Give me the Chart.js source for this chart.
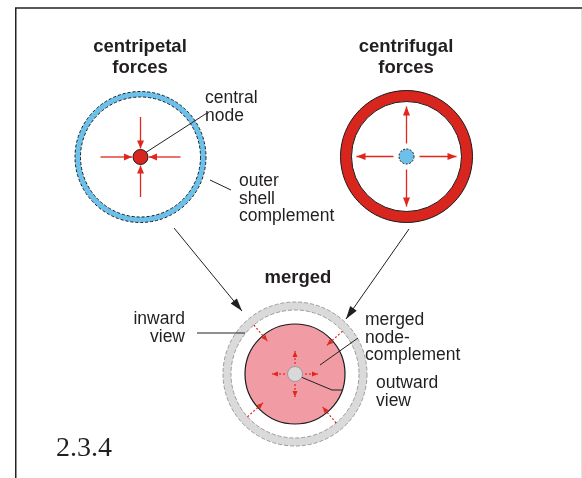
<!DOCTYPE html>
<html>
<head>
<meta charset="utf-8">
<script src="https://cdn.jsdelivr.net/npm/chart.js@4.4.1/dist/chart.umd.min.js"></script>
<style>
  html, body { margin: 0; padding: 0; background: #fff; }
  canvas { display: block; }
</style>
</head>
<body>
<canvas id="forcesChart" width="582" height="478"></canvas>
<script>
// diagram units = page pixels, x to the right, y downward
const shellNames = ['centripetal', 'centrifugal', 'merged'];
const shellX = [140.5, 406.5, 295];
const shellY = [157, 156.5, 374];
const shellOuter = [65.5, 66, 72];
const shellInner = [60, 55, 64];
const nodeR = [7.5, 7.5, 7.5];
const mergedDiscR = 50;

// force arrows: angle in degrees, radius where it starts / ends
const axisAngles = [0, 90, 180, 270];
const diagAngles = [42, 130, 222, 310];
const inwardRadii = [40, 8.5];
const outwardRadii = [13, 50];
const mergedOutRadii = [10, 23];
const mergedInRadii = [64, 43];

// the two big arrows going to "merged"
const flowFrom = [[174, 228], [409, 229]];
const flowTo = [[242, 311], [346, 319]];

// label leader lines
const leaderPaths = [
    [[145, 153], [207, 113]],
    [[210, 180], [231, 190]],
    [[197, 333], [245, 333]],
    [[320, 365], [358, 338]],
    [[301, 377], [332, 390], [343, 390]]
];

const titleText = [['centripetal', 'forces'], ['centrifugal', 'forces'], ['merged']];
const titleX = [140, 406, 298];
const titleY = [52, 52, 283];

const noteText = [['central', 'node'], ['outer', 'shell', 'complement'], ['inward', 'view'], ['merged', 'node-', 'complement'], ['outward', 'view']];
const noteX = [205, 239, 185, 365, 376];
const noteY = [103, 186, 324, 325, 388];
const noteAlign = ['left', 'left', 'right', 'left', 'left'];

const figureLabel = '2.3.4';

const RED = '#e0261d';
const INK = '#231f20';

function radial(i, angle, r) {
    const a = angle * Math.PI / 180;
    return { x: shellX[i] + r * Math.cos(a), y: shellY[i] - r * Math.sin(a) };
}

const datasets = [];
axisAngles.forEach(a => datasets.push({
    data: [radial(0, a, inwardRadii[0]), radial(0, a, inwardRadii[1])],
    borderColor: RED, borderWidth: 1.3, head: { len: 8, w: 7, color: RED }
}));
axisAngles.forEach(a => datasets.push({
    data: [radial(1, a, outwardRadii[0]), radial(1, a, outwardRadii[1])],
    borderColor: RED, borderWidth: 1.3, head: { len: 9, w: 7, color: RED }
}));
axisAngles.forEach(a => datasets.push({
    data: [radial(2, a, mergedOutRadii[0]), radial(2, a, mergedOutRadii[1])],
    borderColor: RED, borderWidth: 1.2, borderDash: [2, 2], head: { len: 6, w: 5, color: RED }
}));
diagAngles.forEach(a => datasets.push({
    data: [radial(2, a, mergedInRadii[0]), radial(2, a, mergedInRadii[1])],
    borderColor: RED, borderWidth: 1.2, borderDash: [2, 2], head: { len: 6, w: 5, color: RED }
}));
flowFrom.forEach((p, k) => datasets.push({
    data: [{ x: p[0], y: p[1] }, { x: flowTo[k][0], y: flowTo[k][1] }],
    borderColor: INK, borderWidth: 1, head: { len: 13, w: 8, color: INK }
}));
leaderPaths.forEach(path => datasets.push({
    data: path.map(p => ({ x: p[0], y: p[1] })),
    borderColor: INK, borderWidth: 1
}));
datasets.forEach(d => {
    d.showLine = true;
    d.pointRadius = 0;
    d.tension = 0;
});

const shellStyle = [
    { fill: '#6cc0ea', edge: '#1a1a1a', dash: [3, 2] },
    { fill: '#d8261e', edge: '#1a1a1a', dash: [] },
    { fill: '#dadada', edge: '#9a9a9a', dash: [4, 2] }
];
const nodeStyle = [
    { fill: '#d8261e', edge: '#1a1a1a', dash: [] },
    { fill: '#6cc0ea', edge: '#1a1a1a', dash: [2, 1.5] },
    { fill: '#d9d9d9', edge: '#9a9a9a', dash: [] }
];

const diagram = {
    id: 'diagram',
    beforeDatasetsDraw(chart) {
        const ctx = chart.ctx;
        const sx = chart.scales.x, sy = chart.scales.y;
        const px = v => sx.getPixelForValue(v);
        const py = v => sy.getPixelForValue(v);
        const pr = r => px(r) - px(0);
        ctx.save();

        // frame
        ctx.strokeStyle = '#222';
        ctx.lineWidth = 1.5;
        ctx.beginPath();
        ctx.moveTo(px(15.75), py(478));
        ctx.lineTo(px(15.75), py(8));
        ctx.lineTo(px(582), py(8));
        ctx.stroke();
        ctx.strokeStyle = '#e2e2e2';
        ctx.lineWidth = 1;
        ctx.beginPath();
        ctx.moveTo(px(581.5), py(9));
        ctx.lineTo(px(581.5), py(478));
        ctx.stroke();

        shellNames.forEach((name, i) => {
            const cx = px(shellX[i]), cy = py(shellY[i]);
            const st = shellStyle[i];
            ctx.fillStyle = st.fill;
            ctx.beginPath();
            ctx.arc(cx, cy, pr(shellOuter[i]), 0, Math.PI * 2);
            ctx.arc(cx, cy, pr(shellInner[i]), 0, Math.PI * 2, true);
            ctx.fill('evenodd');
            ctx.strokeStyle = st.edge;
            ctx.lineWidth = 1;
            ctx.setLineDash(st.dash);
            [shellOuter[i], shellInner[i]].forEach(r => {
                ctx.beginPath();
                ctx.arc(cx, cy, pr(r), 0, Math.PI * 2);
                ctx.stroke();
            });
            ctx.setLineDash([]);
        });

        // merged node-complement disc
        ctx.fillStyle = '#f19ca4';
        ctx.strokeStyle = '#1a1a1a';
        ctx.lineWidth = 1.2;
        ctx.beginPath();
        ctx.arc(px(shellX[2]), py(shellY[2]), pr(mergedDiscR), 0, Math.PI * 2);
        ctx.fill();
        ctx.stroke();
        ctx.restore();
    },
    afterDatasetsDraw(chart) {
        const ctx = chart.ctx;
        const sx = chart.scales.x, sy = chart.scales.y;
        const px = v => sx.getPixelForValue(v);
        const py = v => sy.getPixelForValue(v);
        const pr = r => px(r) - px(0);
        ctx.save();

        // arrow heads on the lines the library drew
        chart.data.datasets.forEach((ds, i) => {
            if (!ds.head) return;
            const pts = chart.getDatasetMeta(i).data;
            const tip = pts[pts.length - 1], prev = pts[pts.length - 2];
            const ang = Math.atan2(tip.y - prev.y, tip.x - prev.x);
            const ux = Math.cos(ang), uy = Math.sin(ang);
            const bx = tip.x - ux * ds.head.len, by = tip.y - uy * ds.head.len;
            ctx.fillStyle = ds.head.color;
            ctx.beginPath();
            ctx.moveTo(tip.x, tip.y);
            ctx.lineTo(bx - uy * ds.head.w / 2, by + ux * ds.head.w / 2);
            ctx.lineTo(bx + uy * ds.head.w / 2, by - ux * ds.head.w / 2);
            ctx.closePath();
            ctx.fill();
        });

        // central nodes
        shellNames.forEach((name, i) => {
            const st = nodeStyle[i];
            ctx.fillStyle = st.fill;
            ctx.strokeStyle = st.edge;
            ctx.lineWidth = 1;
            ctx.setLineDash(st.dash);
            ctx.beginPath();
            ctx.arc(px(shellX[i]), py(shellY[i]), pr(nodeR[i]), 0, Math.PI * 2);
            ctx.fill();
            ctx.stroke();
            ctx.setLineDash([]);
        });

        // titles
        ctx.fillStyle = INK;
        ctx.textBaseline = 'alphabetic';
        ctx.textAlign = 'center';
        ctx.font = 'bold 18.5px "Liberation Sans", Arial, sans-serif';
        titleText.forEach((lines, i) => {
            lines.forEach((t, k) => ctx.fillText(t, px(titleX[i]), py(titleY[i] + k * 21)));
        });

        // notes
        ctx.font = '17.5px "Liberation Sans", Arial, sans-serif';
        noteText.forEach((lines, i) => {
            ctx.textAlign = noteAlign[i];
            lines.forEach((t, k) => ctx.fillText(t, px(noteX[i]), py(noteY[i] + k * 17.5)));
        });

        ctx.textAlign = 'left';
        ctx.font = '28px "Liberation Serif", "Times New Roman", serif';
        ctx.fillText(figureLabel, px(56), py(456));
        ctx.restore();
    }
};

const forcesChart = new Chart(document.getElementById('forcesChart').getContext('2d'), {
    type: 'scatter',
    data: { datasets: datasets },
    options: {
        responsive: false,
        animation: false,
        devicePixelRatio: 1,
        layout: { padding: 0 },
        scales: {
            x: { type: 'linear', min: 0, max: 582, display: false },
            y: { type: 'linear', min: 0, max: 478, reverse: true, display: false }
        },
        plugins: {
            legend: { display: false },
            tooltip: { enabled: false }
        },
        elements: { line: { fill: false } }
    },
    plugins: [diagram]
});
</script>
</body>
</html>
